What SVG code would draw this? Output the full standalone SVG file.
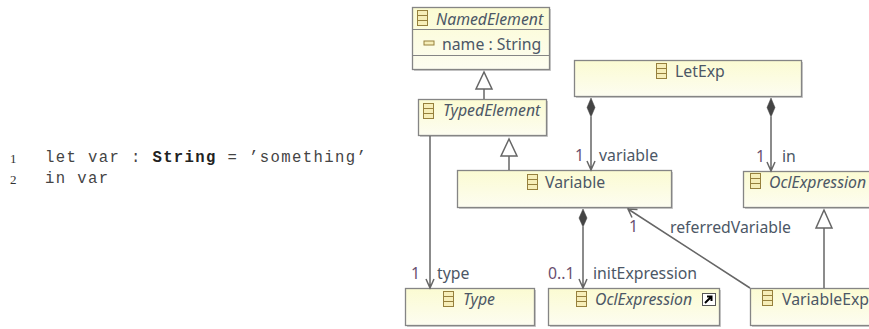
<svg xmlns="http://www.w3.org/2000/svg" width="869" height="329" viewBox="0 0 869 329">
<style>
.n{fill:url(#g);stroke:#858585;stroke-width:1.3}
.s{fill:#9a9a9a;opacity:.5}
.sep{stroke:#858585;stroke-width:1;fill:none}
.t{font-family:"Noto Sans","Open Sans",sans-serif;font-size:15.8px;fill:#4c5766}
.i{font-style:italic}
.m{fill:#6a4f70}
.c{stroke:#666;stroke-width:1.5;fill:none}
.tri{stroke:#666;stroke-width:1.5;fill:#fff}
.d{fill:#444;stroke:#444;stroke-width:.5}
.ic{fill:#f6eeb8;stroke:#96803c;stroke-width:1}
.code{font-family:"Liberation Mono",monospace;font-size:15.6px;letter-spacing:1.38px;fill:#444}
.ln{font-family:"Liberation Serif",serif;font-size:13px;fill:#333}
</style>
<defs>
<linearGradient id="g" x1="0" y1="0" x2="0" y2="1"><stop offset="0" stop-color="#fbfbd2"/><stop offset="1" stop-color="#fdfdf1"/></linearGradient>
<g id="ci"><rect class="ic" x=".5" y=".5" width="10" height="15"/><path class="ic" d="M.5 5.500H10.500M.5 10.500H10.500"/></g>
</defs>
<rect width="869" height="329" fill="#fff"/>
<g id="code">
<text class="ln" x="10" y="163">1</text>
<text class="code" x="45" y="162" xml:space="preserve">let var : <tspan font-weight="bold" fill="#222">String</tspan> = ’something’</text>
<text class="ln" x="10" y="184">2</text>
<text class="code" x="45" y="183" xml:space="preserve">in var</text>
</g>
<g id="NamedElement">
<rect class="s" x="414" y="9" width="137" height="62"/>
<rect class="n" x="412.500" y="7.500" width="137" height="62"/>
<path class="sep" d="M413 29.500H549M413 55.500H549"/>
<use href="#ci" x="417" y="10"/>
<text class="t i" x="436" y="25">NamedElement</text>
<rect x="424" y="41" width="10" height="4" fill="#f6eeb8" stroke="#96803c"/>
<text class="t" x="442" y="50">name : String</text>
</g>
<g id="TypedElement">
<rect class="s" x="420" y="101" width="128" height="36"/>
<rect class="n" x="418.500" y="99.500" width="128" height="36"/>
<use href="#ci" x="423" y="103"/>
<text class="t i" x="443" y="116">TypedElement</text>
</g>
<g id="LetExp">
<rect class="s" x="576" y="62" width="227" height="36"/>
<rect class="n" x="574.500" y="60.500" width="227" height="36"/>
<use href="#ci" x="656" y="63"/>
<text class="t" x="675" y="77">LetExp</text>
</g>
<g id="Variable">
<rect class="s" x="459" y="172" width="214" height="37"/>
<rect class="n" x="457.500" y="170.500" width="214" height="37"/>
<use href="#ci" x="527" y="174"/>
<text class="t" x="545" y="188">Variable</text>
</g>
<g id="OclExpressionRight">
<rect class="s" x="745" y="173" width="130" height="36"/>
<rect class="n" x="743.500" y="171.500" width="130" height="36"/>
<use href="#ci" x="750" y="173"/>
<text class="t i" x="769" y="188">OclExpression</text>
</g>
<g id="Type">
<rect class="s" x="407" y="290" width="129" height="37"/>
<rect class="n" x="405.500" y="288.500" width="129" height="37"/>
<use href="#ci" x="443" y="291"/>
<text class="t i" x="463" y="305">Type</text>
</g>
<g id="OclExpressionBottom">
<rect class="s" x="550" y="290" width="171" height="37"/>
<rect class="n" x="548.500" y="288.500" width="171" height="37"/>
<use href="#ci" x="576" y="291"/>
<text class="t i" x="595" y="305">OclExpression</text>
<rect x="702.500" y="293.500" width="13" height="12" fill="#fff" stroke="#555"/>
<path d="M705 303L711 297M707 296.500H711.500V301" stroke="#000" stroke-width="2" fill="none"/>
</g>
<g id="VariableExp">
<rect class="s" x="752" y="290" width="130" height="37"/>
<rect class="n" x="750.500" y="288.500" width="130" height="37"/>
<use href="#ci" x="762" y="290"/>
<text class="t" x="782" y="305">VariableExp</text>
</g>
<g id="connectors">
<path class="c" d="M484 89V99"/><path class="tri" d="M484 72L476 89H492Z"/>
<path class="c" d="M509 156V170"/><path class="tri" d="M509 139L501 156H517Z"/>
<path class="c" d="M824 228V288"/><path class="tri" d="M824 210L816 228H832Z"/>
<path class="c" d="M591 117V170M587 161L591 170L595 161"/><path class="d" d="M591 98L595 107.500L591 117L587 107.500Z"/>
<path class="c" d="M771 117V171M767 162L771 171L775 162"/><path class="d" d="M771 98L775 107.500L771 117L767 107.500Z"/>
<path class="c" d="M583 227V288M579 279L583 288L587 279"/><path class="d" d="M583 209L587 218L583 227L579 218Z"/>
<path class="c" d="M430 136V288M426 279L430 288L434 279"/>
<path class="c" d="M750 288L628 209M637.500 209.500L628 209L632 217.500"/>
</g>
<g id="labels">
<text class="t m" x="575" y="161">1</text>
<text class="t" x="599" y="161">variable</text>
<text class="t m" x="756" y="162">1</text>
<text class="t" x="782" y="162">in</text>
<text class="t m" x="411" y="279">1</text>
<text class="t" x="437" y="279">type</text>
<text class="t m" x="548" y="279">0..1</text>
<text class="t" x="593" y="279">initExpression</text>
<text class="t m" x="629" y="232">1</text>
<text class="t" x="670" y="233">referredVariable</text>
</g>
</svg>
